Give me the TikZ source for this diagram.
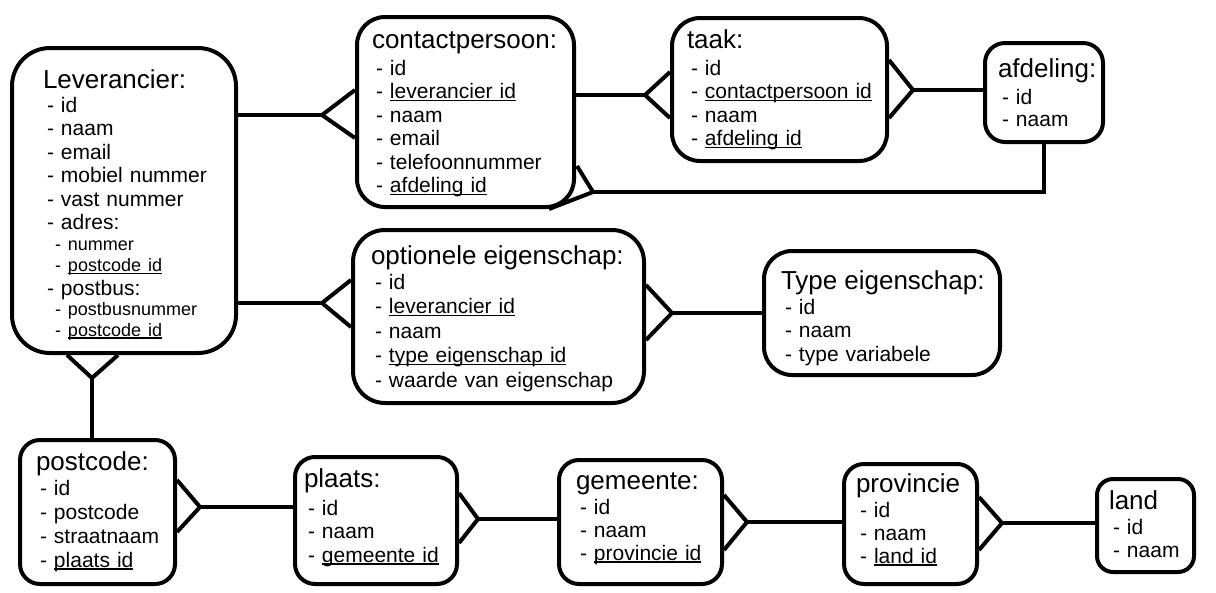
\documentclass[tikz,border=0pt]{standalone}
\usepackage{fontspec}
\setmainfont{Liberation Sans}
\usepackage{calc}
\usepackage{tikz}
\usetikzlibrary{calc}

\hfuzz=400pt
\hbadness=10000

\newcommand{\kop}[1]{\mbox{\fontsize{26pt}{23.5pt}\selectfont #1}}
\newcommand{\veld}[1]{\mbox{\hspace*{4pt}- #1}}
\newcommand{\subveld}[1]{\mbox{\fontsize{18pt}{23.5pt}\selectfont\hspace*{12pt}- #1}}
\newcommand{\fk}[1]{\makebox[0pt][l]{\rule[-2.5pt]{\widthof{#1}}{1.5pt}}#1}

\begin{document}
\begin{tikzpicture}[x=1pt, y=-1pt, line width=4pt, entity/.style={draw, anchor=north west, align=left, inner ysep=0pt, font=\fontsize{21pt}{23.5pt}\selectfont}]
  \useasboundingbox (0,0) rectangle (1216,592);

  % entiteiten
  \node[entity, rounded corners=38pt, inner xsep=31pt, text width=162pt, text height=40pt, text depth=265pt] (lev) at (10,46)
    {\kop{Leverancier:}\\[0.5pt]
     \veld{id}\\ \veld{naam}\\ \veld{email}\\ \veld{mobiel nummer}\\ \veld{vast nummer}\\
     \veld{adres:}\\[-2.5pt] \subveld{nummer}\\[-2.5pt] \subveld{\fk{postcode id}}\\
     \veld{postbus:}\\[-3.5pt] \subveld{postbusnummer}\\[-2.5pt] \subveld{\fk{postcode id}}};
  \node[entity, rounded corners=28pt, inner xsep=15pt, text width=187pt, text height=31pt, text depth=159pt] (contact) at (355,15)
    {\kop{contactpersoon:}\\[3.5pt]
     \veld{id}\\ \veld{\fk{leverancier id}}\\ \veld{naam}\\ \veld{email}\\ \veld{telefoonnummer}\\ \veld{\fk{afdeling id}}};
  \node[entity, rounded corners=28pt, inner xsep=15pt, text width=185pt, text height=30pt, text depth=113pt] (taak) at (670,16)
    {\kop{taak:}\\[3.5pt]
     \veld{id}\\ \veld{\fk{contactpersoon id}}\\ \veld{naam}\\ \veld{\fk{afdeling id}}};
  \node[entity, rounded corners=20pt, inner xsep=13pt, text width=92pt, text height=34pt, text depth=65pt] (afdeling) at (983,41)
    {\kop{afdeling:}\\[3.5pt]
     \veld{id}\\[-1.5pt] \veld{naam}};
  \node[entity, rounded corners=32pt, inner xsep=18pt, text width=255pt, text height=34pt, text depth=139pt] (opt_eig) at (351,228)
    {\kop{optionele eigenschap:}\\[1.5pt]
     \veld{id}\\[1pt] \veld{\fk{leverancier id}}\\[1pt] \veld{naam}\\[1pt] \veld{\fk{type eigenschap id}}\\[1pt] \veld{waarde van eigenschap}};
  \node[entity, rounded corners=28pt, inner xsep=17pt, text width=202pt, text height=38pt, text depth=86pt] (type_eig) at (762,249)
    {\kop{Type eigenschap:}\\[1.5pt]
     \veld{id}\\ \veld{naam}\\ \veld{type variabele}};
  \node[entity, rounded corners=20pt, inner xsep=16pt, text width=123pt, text height=30pt, text depth=114pt] (postcode) at (18,438)
    {\kop{postcode:}\\[1.5pt]
     \veld{id}\\[0.5pt] \veld{postcode}\\[0.5pt] \veld{straatnaam}\\[0.5pt] \veld{\fk{plaats id}}};
  \node[entity, rounded corners=20pt, inner xsep=9pt, text width=144pt, text height=30pt, text depth=97pt] (plaats) at (293,455)
    {\kop{plaats:}\\[4.5pt]
     \veld{id}\\ \veld{naam}\\ \veld{\fk{gemeente id}}};
  \node[entity, rounded corners=20pt, inner xsep=17pt, text width=129pt, text height=29pt, text depth=95pt] (gemeente) at (557,458)
    {\kop{gemeente:}\\[1.5pt]
     \veld{id}\\[-0.5pt] \veld{naam}\\[-0.5pt] \veld{\fk{provincie id}}};
  \node[entity, rounded corners=20pt, inner xsep=12pt, text width=109pt, text height=28pt, text depth=92pt] (provincie) at (842,462)
    {\kop{provincie}\\[1.5pt]
     \veld{id}\\[-0.5pt] \veld{naam}\\[-0.5pt] \veld{\fk{land id}}};
  \node[entity, rounded corners=16pt, inner xsep=12pt, text width=73pt, text height=30pt, text depth=63pt] (land) at (1095,477)
    {\kop{land}\\[1.5pt]
     \veld{id}\\[-0.5pt] \veld{naam}};

  % punten van de kraaienpoten
  \coordinate (lev_contact)  at (322,115);
  \coordinate (lev_opt)      at (322,303);
  \coordinate (contact_taak) at (645,95);
  \coordinate (taak_afd)     at (913,90);
  \coordinate (afd_contact)  at (593,192);
  \coordinate (opt_type)     at (672,313);
  \coordinate (lev_post)     at (92,378);
  \coordinate (post_plaats)  at (200,507);
  \coordinate (plaats_gem)   at (478,519);
  \coordinate (gem_prov)     at (747,522);
  \coordinate (prov_land)    at (1002,523);

  % relaties
  \draw (lev.east |- lev_contact) -- (lev_contact);
  \draw ($(contact.west |- lev_contact)+(0,-25)$) -- (lev_contact) -- ($(contact.west |- lev_contact)+(0,23)$);
  \draw (lev.east |- lev_opt) -- (lev_opt);
  \draw ($(opt_eig.west |- lev_opt)+(0,-23)$) -- (lev_opt) -- ($(opt_eig.west |- lev_opt)+(0,24)$);
  \draw (contact.east |- contact_taak) -- (contact_taak);
  \draw ($(taak.west |- contact_taak)+(0,-23)$) -- (contact_taak) -- ($(taak.west |- contact_taak)+(0,23)$);
  \draw ($(taak.east |- taak_afd)+(0,-30)$) -- (taak_afd) -- ($(taak.east |- taak_afd)+(0,28)$);
  \draw (taak_afd) -- (afdeling.west |- taak_afd);
  \draw (afdeling.south) |- (afd_contact);
  \draw ($(contact.south east)+(1,-43)$) -- (afd_contact) -- ($(contact.south east)+(-27,0)$);
  \draw ($(opt_eig.east |- opt_type)+(0,-28)$) -- (opt_type) -- ($(opt_eig.east |- opt_type)+(0,27)$);
  \draw (opt_type) -- (type_eig.west |- opt_type);
  \draw ($(lev.south -| lev_post)+(-25,0)$) -- (lev_post) -- ($(lev.south -| lev_post)+(26,0)$);
  \draw (lev_post) -- (postcode.north -| lev_post);
  \draw ($(postcode.east |- post_plaats)+(0,-27)$) -- (post_plaats) -- ($(postcode.east |- post_plaats)+(0,25)$);
  \draw (post_plaats) -- (plaats.west |- post_plaats);
  \draw ($(plaats.east |- plaats_gem)+(0,-26)$) -- (plaats_gem) -- ($(plaats.east |- plaats_gem)+(0,24)$);
  \draw (plaats_gem) -- (gemeente.west |- plaats_gem);
  \draw ($(gemeente.east |- gem_prov)+(0,-27)$) -- (gem_prov) -- ($(gemeente.east |- gem_prov)+(0,28)$);
  \draw (gem_prov) -- (provincie.west |- gem_prov);
  \draw ($(provincie.east |- prov_land)+(0,-26)$) -- (prov_land) -- ($(provincie.east |- prov_land)+(0,27)$);
  \draw (prov_land) -- (land.west |- prov_land);
\end{tikzpicture}
\end{document}
